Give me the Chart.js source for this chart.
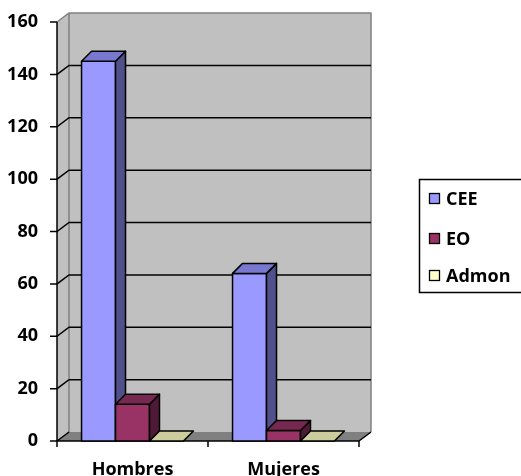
<!DOCTYPE html>
<html>
<head>
<meta charset="utf-8">
<script src="https://cdn.jsdelivr.net/npm/chart.js@4/dist/chart.umd.min.js"></script>
<style>
html,body{margin:0;padding:0;background:#fff;}
#wrap{position:relative;width:521px;height:476px;}
</style>
</head>
<body>
<div id="wrap"><canvas id="c" width="521" height="476"></canvas></div>
<script>
const categories = ['Hombres', 'Mujeres'];
const seriesNames = ['CEE', 'EO', 'Admon'];
const ceeValues = [145, 64];
const eoValues = [14, 4];
const admonValues = [0, 0];
const yMin = 0, yMax = 160, yStep = 20;

const FONT = '"Open Sans", "DejaVu Sans", sans-serif';
const faces = [
  {front: '#9999FF', side: '#50508A', top: '#7878D0'},
  {front: '#993366', side: '#4F1A35', top: '#772850'},
  {front: '#FFFFCC', side: '#A0A080', top: '#CCCC9C'}
];
const DX = 12, DY = -9;      // wall depth
const BDX = 10, BDY = -10;   // bar depth

const threeD = {
  id: 'threeD',
  beforeDatasetsDraw(chart) {
    const ctx = chart.ctx, a = chart.chartArea, ys = chart.scales.y;
    const L = a.left, R = a.right, T = a.top, B = a.bottom;
    ctx.save();
    ctx.fillStyle = '#C0C0C0';
    ctx.beginPath();
    ctx.moveTo(L, T); ctx.lineTo(L + DX, T + DY); ctx.lineTo(L + DX, B + DY); ctx.lineTo(L, B); ctx.closePath(); ctx.fill();
    ctx.fillRect(L + DX, T + DY, R - L, B - T);
    ctx.fillStyle = '#808080';
    ctx.beginPath();
    ctx.moveTo(L, B); ctx.lineTo(R, B); ctx.lineTo(R + DX, B + DY); ctx.lineTo(L + DX, B + DY); ctx.closePath(); ctx.fill();
    ctx.strokeStyle = '#808080'; ctx.lineWidth = 1.5;
    ctx.beginPath();
    ctx.moveTo(L, T); ctx.lineTo(L + DX, T + DY); ctx.lineTo(R + DX, T + DY); ctx.lineTo(R + DX, B + DY);
    ctx.moveTo(L + DX, T + DY); ctx.lineTo(L + DX, B + DY);
    ctx.stroke();
    ctx.strokeStyle = '#000'; ctx.lineWidth = 1.5;
    ys.ticks.forEach(t => {
      const y = ys.getPixelForValue(t.value);
      ctx.beginPath();
      ctx.moveTo(L - 7, y); ctx.lineTo(L, y);
      if (t.value > yMin && t.value < yMax) {
        ctx.lineTo(L + DX, y + DY); ctx.lineTo(R + DX, y + DY);
      }
      ctx.stroke();
    });
    ctx.beginPath();
    ctx.moveTo(L, B); ctx.lineTo(L + DX, B + DY);
    ctx.moveTo(R, B); ctx.lineTo(R + DX, B + DY);
    ctx.stroke();
    ctx.beginPath();
    ctx.moveTo(L, T); ctx.lineTo(L, B); ctx.lineTo(R, B);
    const n = categories.length;
    for (let i = 0; i <= n; i++) {
      const x = L + (R - L) * i / n;
      ctx.moveTo(x, B); ctx.lineTo(x, B + 6);
    }
    ctx.stroke();
    ctx.restore();
  },
  afterDatasetsDraw(chart) {
    const ctx = chart.ctx;
    const bars = [];
    chart.data.datasets.forEach((ds, di) => {
      chart.getDatasetMeta(di).data.forEach(el => {
        const p = el.getProps(['x', 'y', 'base', 'width'], true);
        bars.push({p, f: faces[di]});
      });
    });
    bars.sort((a, b) => a.p.x - b.p.x);
    ctx.save();
    ctx.strokeStyle = '#000'; ctx.lineWidth = 1.5; ctx.lineJoin = 'round';
    bars.forEach(({p, f}) => {
      const x0 = p.x - p.width / 2, x1 = p.x + p.width / 2, yt = p.y, yb = p.base;
      ctx.fillStyle = f.front;
      ctx.beginPath(); ctx.rect(x0, yt, x1 - x0, yb - yt); ctx.fill(); if (yb - yt > 0.5) ctx.stroke();
      if (yb - yt > 0.5) {
        ctx.fillStyle = f.side;
        ctx.beginPath();
        ctx.moveTo(x1, yt); ctx.lineTo(x1 + BDX, yt + BDY); ctx.lineTo(x1 + BDX, yb + BDY); ctx.lineTo(x1, yb); ctx.closePath();
        ctx.fill(); ctx.stroke();
      }
      ctx.fillStyle = f.top;
      ctx.beginPath();
      ctx.moveTo(x0, yt); ctx.lineTo(x1, yt); ctx.lineTo(x1 + BDX, yt + BDY); ctx.lineTo(x0 + BDX, yt + BDY); ctx.closePath();
      ctx.fill(); ctx.stroke();
    });
    ctx.restore();
  },
  afterDraw(chart) {
    const ctx = chart.ctx;
    ctx.save();
    ctx.strokeStyle = '#000'; ctx.lineWidth = 1.5;
    ctx.strokeRect(419.5, 179.5, 110, 113);
    const ys = [199, 239, 276];
    ctx.font = 'bold 18px ' + FONT;
    ctx.textBaseline = 'middle'; ctx.textAlign = 'left';
    chart.data.datasets.forEach((ds, i) => {
      ctx.fillStyle = faces[i].front;
      ctx.fillRect(429.5, ys[i] - 5.5, 10, 10);
      ctx.lineWidth = 1.3;
      ctx.strokeRect(429.5, ys[i] - 5.5, 10, 10);
      ctx.fillStyle = '#000';
      ctx.fillText(ds.label, 446, ys[i] + 0.5);
    });
    ctx.restore();
  }
};

const tickFont = {family: FONT, size: 18, weight: 'bold'};

new Chart(document.getElementById('c'), {
  type: 'bar',
  data: {
    labels: categories,
    datasets: [
      {label: seriesNames[0], data: ceeValues, backgroundColor: faces[0].front},
      {label: seriesNames[1], data: eoValues, backgroundColor: faces[1].front},
      {label: seriesNames[2], data: admonValues, backgroundColor: faces[2].front}
    ]
  },
  options: {
    responsive: false,
    animation: false,
    devicePixelRatio: 1,
    layout: {padding: {top: 22, right: 162, left: 0, bottom: 0}},
    datasets: {bar: {categoryPercentage: 0.675, barPercentage: 1}},
    plugins: {legend: {display: false}, tooltip: {enabled: false}},
    scales: {
      x: {
        grid: {display: false}, border: {display: false},
        ticks: {font: tickFont, color: '#000', padding: 10, maxRotation: 0},
        afterFit: s => { s.height = 35; }
      },
      y: {
        min: yMin, max: yMax,
        grid: {display: false}, border: {display: false},
        ticks: {stepSize: yStep, font: tickFont, color: '#000', padding: 11},
        afterFit: s => { s.width = 57; }
      }
    }
  },
  plugins: [threeD]
});
</script>
</body>
</html>
